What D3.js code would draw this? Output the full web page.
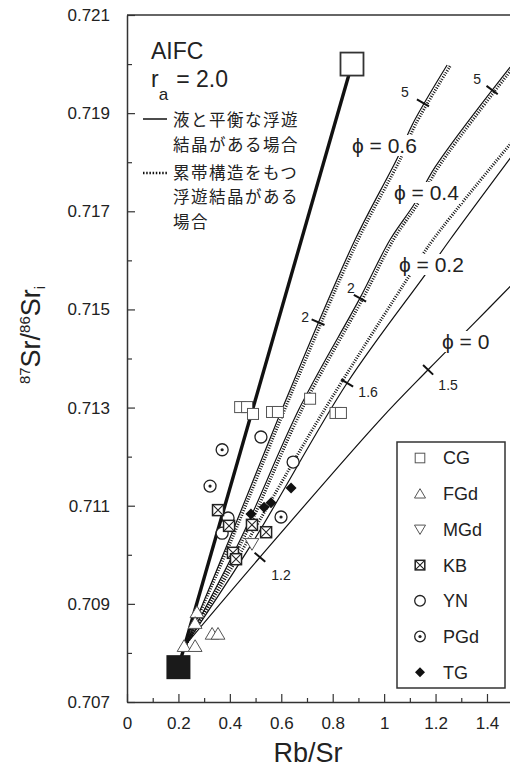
<!doctype html>
<html>
<head>
<meta charset="utf-8">
<script src="https://cdnjs.cloudflare.com/ajax/libs/d3/7.8.5/d3.min.js"></script>
<style>
  body { margin: 0; background: #fff; }
  svg { display: block; font-family: "Liberation Sans", Arial, sans-serif; }
</style>
</head>
<body>
<svg width="510" height="769"></svg>
<script>
// axis ticks
var xTicks = [0, 0.2, 0.4, 0.6, 0.8, 1, 1.2, 1.4];
var xMinor = [0.1, 0.3, 0.5, 0.7, 0.9, 1.1, 1.3];
var yTicks = [0.707, 0.709, 0.711, 0.713, 0.715, 0.717, 0.719, 0.721];
var yMinor = [0.708, 0.710, 0.712, 0.714, 0.716, 0.718, 0.720];

// end members
var magma = [0.2, 0.70771];
var crust = [0.875, 0.7200];

// AFC curves (Rb/Sr, 87Sr/86Sr)
var phi06 = [[0.23,0.70818],[0.397,0.71030],[0.634,0.71336],[0.887,0.71642],[1.054,0.71811],[1.109,0.71876],[1.245,0.71998]];
var phi06dot = [[0.23,0.70818],[0.406,0.71030],[0.645,0.71336],[0.899,0.71642],[1.067,0.71811],[1.121,0.71876],[1.259,0.71998]];
var phi04 = [[0.23,0.70818],[0.440,0.71030],[0.673,0.71301],[0.906,0.71523],[1.023,0.71642],[1.120,0.71717],[1.198,0.71790],[1.490,0.71994]];
var phi04dot = [[0.23,0.70818],[0.450,0.71030],[0.685,0.71301],[0.918,0.71523],[1.036,0.71642],[1.133,0.71717],[1.211,0.71790],[1.503,0.71994]];
var phi02 = [[0.23,0.70818],[0.494,0.71030],[0.856,0.71350],[1.167,0.71576],[1.256,0.71642],[1.500,0.71815]];
var phi02dot = [[0.23,0.70818],[0.471,0.71030],[0.751,0.71281],[1.112,0.71580],[1.190,0.71642],[1.500,0.71843]];
var phi0 = [[0.23,0.70818],[0.517,0.70995],[0.984,0.71275],[1.171,0.71377],[1.354,0.71474],[1.500,0.71552]];

// tick marks on curves: [curve, Rb/Sr, Sr, label]
var curveTicks = [
  ["phi06", 0.743, 0.71474, "2"],
  ["phi04", 0.906, 0.71523, "2"],
  ["phi06", 1.151, 0.71921, "5"],
  ["phi04", 1.420, 0.71947, "5"],
  ["phi02", 0.856, 0.71350, "1.6"],
  ["phi0", 1.171, 0.71377, "1.5"],
  ["phi0", 0.517, 0.70995, "1.2"]
];

// samples
var cg  = [[0.440,0.71301],[0.467,0.71301],[0.490,0.71287],[0.564,0.71291],[0.587,0.71291],[0.712,0.71318],[0.811,0.71289],[0.832,0.71289]];
var fgd = [[0.272,0.70883],[0.265,0.70861],[0.331,0.70839],[0.354,0.70839],[0.222,0.70814],[0.265,0.70814]];
var mgd = [[0.486,0.71022]];
var kb  = [[0.354,0.71091],[0.397,0.71059],[0.486,0.71061],[0.541,0.71046],[0.412,0.71004],[0.424,0.70991]];
var yn  = [[0.393,0.71075],[0.370,0.71044],[0.521,0.71240],[0.646,0.71189]];
var pgd = [[0.370,0.71214],[0.323,0.71140],[0.599,0.71077]];
var tg  = [[0.638,0.71136],[0.560,0.71106],[0.533,0.71097],[0.482,0.71083]];

var groups = ["CG", "FGd", "MGd", "KB", "YN", "PGd", "TG"];

var svg = d3.select("svg");
var x = d3.scaleLinear().domain([0, 1.5]).range([127, 512.7]);
var y = d3.scaleLinear().domain([0.707, 0.721]).range([702, 15]);

svg.append("clipPath").attr("id", "plot")
  .append("rect").attr("x", 127).attr("y", 15).attr("width", 386).attr("height", 687);

// axes
svg.append("g").attr("transform", "translate(0,702)")
  .call(d3.axisBottom(x).tickValues(xTicks).tickSize(-8).tickSizeOuter(0).tickPadding(15).tickFormat(d3.format("")));
svg.append("g").attr("transform", "translate(0,702)")
  .call(d3.axisBottom(x).tickValues(xMinor).tickSize(-4).tickSizeOuter(0).tickFormat(""))
  .select(".domain").remove();
svg.append("g").attr("transform", "translate(127,0)")
  .call(d3.axisLeft(y).tickValues(yTicks).tickSize(-8).tickSizeOuter(0).tickPadding(17).tickFormat(d3.format(".3f")));
svg.append("g").attr("transform", "translate(127,0)")
  .call(d3.axisLeft(y).tickValues(yMinor).tickSize(-5).tickSizeOuter(0).tickFormat(""))
  .select(".domain").remove();
svg.selectAll(".tick line, .domain").attr("stroke", "#333").attr("stroke-width", 1.2);
svg.selectAll(".tick text").attr("font-size", 17).attr("fill", "#222")
  .attr("font-family", "Liberation Sans, Arial, sans-serif");
svg.append("line").attr("x1", 127).attr("x2", 512).attr("y1", 15).attr("y2", 15)
  .attr("stroke", "#333").attr("stroke-width", 1.5);
svg.selectAll(".domain").attr("stroke-width", 1.5);

// axis titles
svg.append("text").attr("x", 308).attr("y", 762).attr("text-anchor", "middle")
  .attr("font-size", 27).attr("fill", "#222").text("Rb/Sr");
var yt = svg.append("text").attr("transform", "translate(40,335) rotate(-90)")
  .attr("text-anchor", "middle").attr("font-size", 27).attr("fill", "#222");
yt.append("tspan").attr("font-size", 15).attr("dy", -10).text("87");
yt.append("tspan").attr("dy", 10).text("Sr/");
yt.append("tspan").attr("font-size", 15).attr("dy", -10).text("86");
yt.append("tspan").attr("dy", 10).text("Sr");
yt.append("tspan").attr("font-size", 15).attr("dy", 5).text("i");

// curves
var plot = svg.append("g").attr("clip-path", "url(#plot)");
var line = d3.line().x(d => x(d[0])).y(d => y(d[1])).curve(d3.curveCatmullRom);
var curves = {phi06: phi06, phi04: phi04, phi02: phi02, phi0: phi0};
[phi06, phi04, phi02, phi0].forEach(function (c) {
  plot.append("path").attr("d", line(c)).attr("fill", "none")
    .attr("stroke", "#111").attr("stroke-width", 1.2);
});
[phi06dot, phi04dot, phi02dot].forEach(function (c) {
  plot.append("path").attr("d", line(c)).attr("fill", "none")
    .attr("stroke", "#111").attr("stroke-width", 3).attr("stroke-dasharray", "1,1.5");
});
// mixing line
plot.append("line")
  .attr("x1", x(magma[0])).attr("y1", y(magma[1]))
  .attr("x2", x(crust[0])).attr("y2", y(crust[1]))
  .attr("stroke", "#111").attr("stroke-width", 3.4);

// ticks on curves
var labelOffset = {"2a": [-13, -5], "2b": [-9, -10], "5a": [-18, -11], "5b": [-15, -11],
                   "1.6": [21, 9], "1.5": [20, 15], "1.2": [21, 18]};
var tickKeys = ["2a", "2b", "5a", "5b", "1.6", "1.5", "1.2"];
curveTicks.forEach(function (t, i) {
  var c = curves[t[0]].map(d => [x(d[0]), y(d[1])]);
  var px = x(t[1]), py = y(t[2]);
  var k = 1;
  while (k < c.length - 1 && c[k][1] > py) k++;
  var dx = c[k][0] - c[k - 1][0], dy = c[k][1] - c[k - 1][1];
  var L = Math.sqrt(dx * dx + dy * dy);
  var nx = -dy / L * 7, ny = dx / L * 7;
  svg.append("line").attr("x1", px - nx).attr("y1", py - ny).attr("x2", px + nx).attr("y2", py + ny)
    .attr("stroke", "#111").attr("stroke-width", 2);
  var off = labelOffset[tickKeys[i]];
  svg.append("text").attr("x", px + off[0]).attr("y", py + off[1]).attr("dy", "0.35em")
    .attr("text-anchor", "middle").attr("font-size", 14).attr("fill", "#222").text(t[3]);
});

// phi labels with white background
function phiLabel(tx, ty, txt) {
  var g = svg.append("g");
  var t = g.append("text").attr("x", tx).attr("y", ty).attr("font-size", 21).attr("fill", "#222").text(txt);
  var b = t.node().getBBox();
  g.insert("rect", "text").attr("x", b.x - 3).attr("y", b.y + 1).attr("width", b.width + 6).attr("height", b.height - 2)
    .attr("fill", "#fff");
}
phiLabel(352, 153, "ϕ = 0.6");
phiLabel(394, 200, "ϕ = 0.4");
phiLabel(399, 272, "ϕ = 0.2");
phiLabel(442, 349, "ϕ = 0");

// markers
function marker(g, type, s) {
  if (type === "CG") {
    g.append("rect").attr("x", -s).attr("y", -s).attr("width", 2 * s).attr("height", 2 * s)
      .attr("fill", "#fff").attr("stroke", "#555").attr("stroke-width", 1);
  } else if (type === "FGd") {
    g.append("path").attr("d", `M0,${-s * 1.05}L${s * 1.15},${s * 0.9}L${-s * 1.15},${s * 0.9}Z`)
      .attr("fill", "#fff").attr("stroke", "#555").attr("stroke-width", 1);
  } else if (type === "MGd") {
    g.append("path").attr("d", `M0,${s * 1.05}L${s * 1.15},${-s * 0.9}L${-s * 1.15},${-s * 0.9}Z`)
      .attr("fill", "#fff").attr("stroke", "#555").attr("stroke-width", 1);
  } else if (type === "KB") {
    g.append("rect").attr("x", -s).attr("y", -s).attr("width", 2 * s).attr("height", 2 * s)
      .attr("fill", "#fff").attr("stroke", "#222").attr("stroke-width", 1.5);
    g.append("path").attr("d", `M${-s},${-s}L${s},${s}M${s},${-s}L${-s},${s}`)
      .attr("stroke", "#222").attr("stroke-width", 1.1);
  } else if (type === "YN") {
    g.append("circle").attr("r", s + 0.5).attr("fill", "#fff").attr("stroke", "#222").attr("stroke-width", 1.3);
  } else if (type === "PGd") {
    g.append("circle").attr("r", s + 0.5).attr("fill", "#fff").attr("stroke", "#222").attr("stroke-width", 1.3);
    g.append("circle").attr("r", 1.6).attr("fill", "#222");
  } else if (type === "TG") {
    g.append("path").attr("d", `M0,${-s}L${s},0L0,${s}L${-s},0Z`).attr("fill", "#111");
  }
}
var samples = {CG: cg, FGd: fgd, MGd: mgd, KB: kb, YN: yn, PGd: pgd, TG: tg};
var sizes = {CG: 5.5, FGd: 6, MGd: 6, KB: 5.5, YN: 5.5, PGd: 5.5, TG: 5.5};
["FGd", "MGd", "CG", "YN", "PGd", "KB", "TG"].forEach(function (k) {
  svg.selectAll(null).data(samples[k]).enter().append("g")
    .attr("transform", d => `translate(${x(d[0])},${y(d[1])})`)
    .each(function () { marker(d3.select(this), k, sizes[k]); });
});

// end member squares
svg.append("rect").attr("x", x(magma[0]) - 12).attr("y", y(magma[1]) - 12).attr("width", 24).attr("height", 24)
  .attr("fill", "#1a1a1a");
svg.append("rect").attr("x", x(crust[0]) - 11.5).attr("y", y(crust[1]) - 11.5).attr("width", 23).attr("height", 23)
  .attr("fill", "#fff").attr("stroke", "#333").attr("stroke-width", 1.8);

// legend box
var lg = svg.append("g");
lg.append("rect").attr("x", 397).attr("y", 442).attr("width", 108).attr("height", 246)
  .attr("fill", "#fff").attr("stroke", "#333").attr("stroke-width", 1.5);
groups.forEach(function (k, i) {
  var yy = 458 + i * 35.7;
  var m = lg.append("g").attr("transform", `translate(420,${yy})`);
  marker(m, k, k === "TG" ? 5 : 4.8);
  lg.append("text").attr("x", 443).attr("y", yy).attr("dy", "0.36em").attr("font-size", 18)
    .attr("fill", "#222").text(k);
});

// annotation, top left
svg.append("text").attr("x", 151).attr("y", 59).attr("font-size", 23).attr("fill", "#222").text("AIFC");
var ra = svg.append("text").attr("x", 151).attr("y", 87).attr("font-size", 23).attr("fill", "#222");
ra.append("tspan").text("r");
ra.append("tspan").attr("font-size", 17).attr("dy", 13).text("a");
ra.append("tspan").attr("dy", -13).attr("dx", 8).text("= 2.0");
svg.append("line").attr("x1", 143).attr("x2", 167).attr("y1", 119).attr("y2", 119)
  .attr("stroke", "#111").attr("stroke-width", 1.5);
svg.append("line").attr("x1", 143).attr("x2", 168).attr("y1", 173).attr("y2", 173)
  .attr("stroke", "#111").attr("stroke-width", 2.4).attr("stroke-dasharray", "1.5,1.7");
var notes = [["液と平衡な浮遊", 120], ["結晶がある場合", 145], ["累帯構造をもつ", 173], ["浮遊結晶がある", 197.5], ["場合", 222]];
notes.forEach(function (n) {
  svg.append("text").attr("x", 173).attr("y", n[1]).attr("dy", "0.36em")
    .attr("font-family", "Noto Sans CJK JP, sans-serif").attr("font-size", 16.5)
    .attr("letter-spacing", 1.5).attr("fill", "#222").text(n[0]);
});
</script>
</body>
</html>
